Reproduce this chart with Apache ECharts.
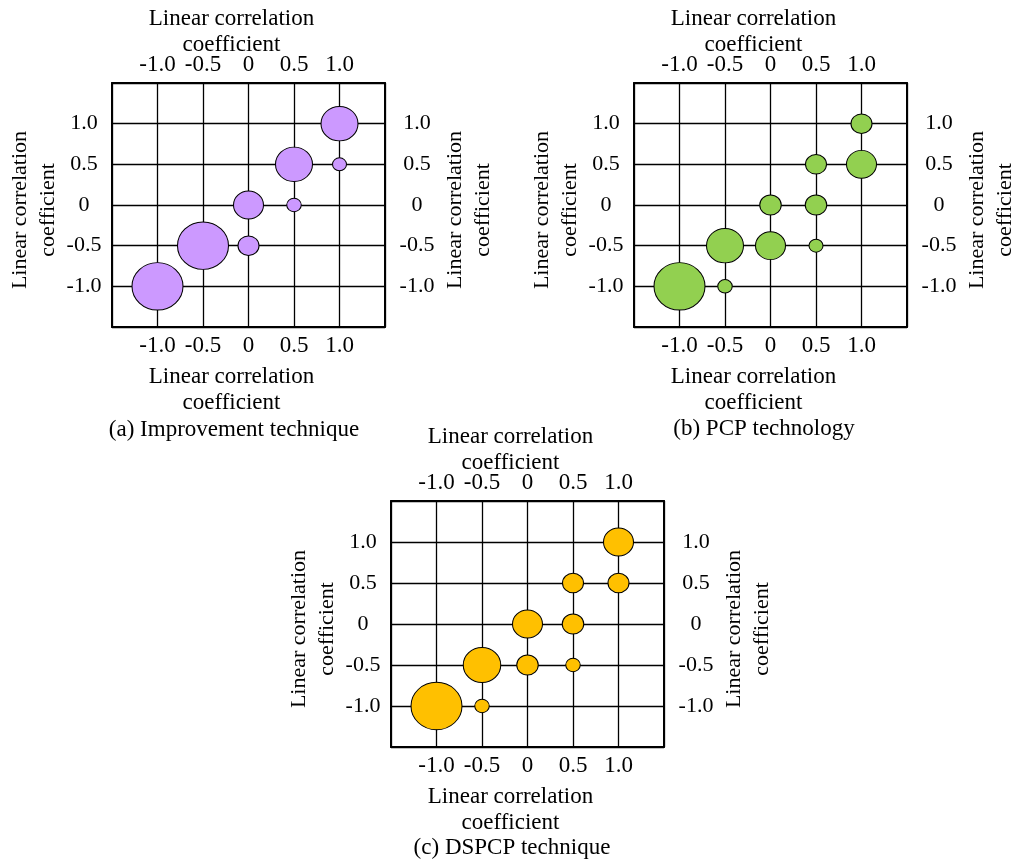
<!DOCTYPE html>
<html>
<head>
<meta charset="utf-8">
<script src="https://cdn.jsdelivr.net/npm/echarts@6/dist/echarts.min.js"></script>
<style>
html,body{margin:0;padding:0;background:#fff;}
#chart{width:1014px;height:859px;}
</style>
</head>
<body>
<div id="chart"></div>
<script>
// ---- data ----
const tickValues = [-1, -0.5, 0, 0.5, 1];
const tickLabels = ['-1.0', '-0.5', '0', '0.5', '1.0'];
const axisTitle = 'Linear correlation\ncoefficient';
const captions = ['(a) Improvement technique', '(b) PCP technology', '(c) DSPCP technique'];
const colors = ['#CC99FF', '#92D050', '#FFC000'];

// panel (a)
const aX =    [-1,  -0.5,  0,   0,   0.5, 0.5, 1,   1];
const aY =    [-1,  -0.5, -0.5, 0,   0,   0.5, 0.5, 1];
const aSize = [51,   51,   21,  30,  14.5, 37, 14,  37];
// panel (b)
const bX =    [-1,  -0.5, -0.5,  0,    0,   0.5,  0.5, 0.5, 1,   1];
const bY =    [-1,  -1,   -0.5, -0.5,  0,  -0.5,  0,   0.5, 0.5, 1];
const bSize = [51,   14.5, 37,   30,   21.5, 14,  21.5, 21,  30,  21];
// panel (c)
const cX =    [-1,  -0.5, -0.5,  0,    0,   0.5,  0.5, 0.5, 1,   1];
const cY =    [-1,  -1,   -0.5, -0.5,  0,  -0.5,  0,   0.5, 0.5, 1];
const cSize = [51,   14.5, 37.5, 21.5, 30,  14.5, 21.5, 21,  21,  30];

const panels = [
  {x: aX, y: aY, s: aSize},
  {x: bX, y: bY, s: bSize},
  {x: cX, y: cY, s: cSize}
];

// ---- layout ----
const grids = [
  {left: 112, top: 83, width: 273, height: 244, outerBoundsMode: 'none', containLabel: false},
  {left: 634, top: 83, width: 273, height: 244, outerBoundsMode: 'none', containLabel: false},
  {left: 391, top: 501, width: 273, height: 246, outerBoundsMode: 'none', containLabel: false}
];
const captionPos = [[234, 430], [764, 429], [512, 848]];

const FONT = 'Liberation Serif';
const fmt = v => {
  for (let i = 0; i < tickValues.length; i++) {
    if (Math.abs(v - tickValues[i]) < 1e-9) return tickLabels[i];
  }
  return '';
};

const xAxes = [], yAxes = [], series = [], graphic = [];
grids.forEach((g, gi) => {
  const common = {
    type: 'value', gridIndex: gi, min: -1.5, max: 1.5, interval: 0.5,
    axisTick: {show: false},
    axisLine: {show: true, onZero: false, lineStyle: {color: '#000', width: 2}},
    nameLocation: 'middle',
    nameMoveOverlap: false
  };
  xAxes.push(Object.assign({}, common, {
    position: 'bottom',
    name: axisTitle, nameGap: 37,
    nameTextStyle: {fontFamily: FONT, fontSize: 23, color: '#000', lineHeight: 26, padding: [0, 34, 0, 0]},
    axisLabel: {formatter: fmt, fontFamily: FONT, fontSize: 23, color: '#000', margin: 7},
    splitLine: {show: true, lineStyle: {color: '#000', width: 1.3}}
  }));
  xAxes.push(Object.assign({}, common, {
    position: 'top',
    name: axisTitle, nameGap: 25,
    nameTextStyle: {fontFamily: FONT, fontSize: 23, color: '#000', lineHeight: 26, padding: [0, 34, 0, 0]},
    axisLabel: {formatter: fmt, fontFamily: FONT, fontSize: 23, color: '#000', margin: 7},
    splitLine: {show: false}
  }));
  yAxes.push(Object.assign({}, common, {
    position: 'left',
    name: axisTitle, nameGap: 50, nameRotate: 90,
    nameTextStyle: {fontFamily: FONT, fontSize: 22, color: '#000', lineHeight: 28, padding: [0, 10, 0, 0]},
    axisLabel: {formatter: fmt, fontFamily: FONT, fontSize: 22, color: '#000', margin: 28, align: 'center'},
    splitLine: {show: true, lineStyle: {color: '#000', width: 1.3}}
  }));
  yAxes.push(Object.assign({}, common, {
    position: 'right',
    name: axisTitle, nameGap: 56, nameRotate: 90,
    nameTextStyle: {fontFamily: FONT, fontSize: 22, color: '#000', lineHeight: 28, padding: [0, 10, 0, 0]},
    axisLabel: {formatter: fmt, fontFamily: FONT, fontSize: 22, color: '#000', margin: 32, align: 'center'},
    splitLine: {show: false}
  }));
  const p = panels[gi];
  series.push({
    type: 'scatter',
    xAxisIndex: gi * 2, yAxisIndex: gi * 2,
    data: p.x.map((xv, i) => [xv, p.y[i], p.s[i]]),
    symbol: 'circle',
    symbolSize: v => [v[2], v[2] * 0.93],
    itemStyle: {color: colors[gi], borderColor: '#000', borderWidth: 1, opacity: 1},
    emphasis: {disabled: true},
    z: 5
  });
  graphic.push({
    type: 'text', x: captionPos[gi][0], y: captionPos[gi][1],
    style: {text: captions[gi], fontFamily: FONT, fontSize: 23, fill: '#000', align: 'center', verticalAlign: 'middle'}
  });
});

const chart = echarts.init(document.getElementById('chart'), null, {renderer: 'canvas'});
chart.setOption({
  backgroundColor: '#fff',
  animation: false,
  grid: grids,
  xAxis: xAxes,
  yAxis: yAxes,
  series: series,
  graphic: graphic
});
</script>
</body>
</html>
